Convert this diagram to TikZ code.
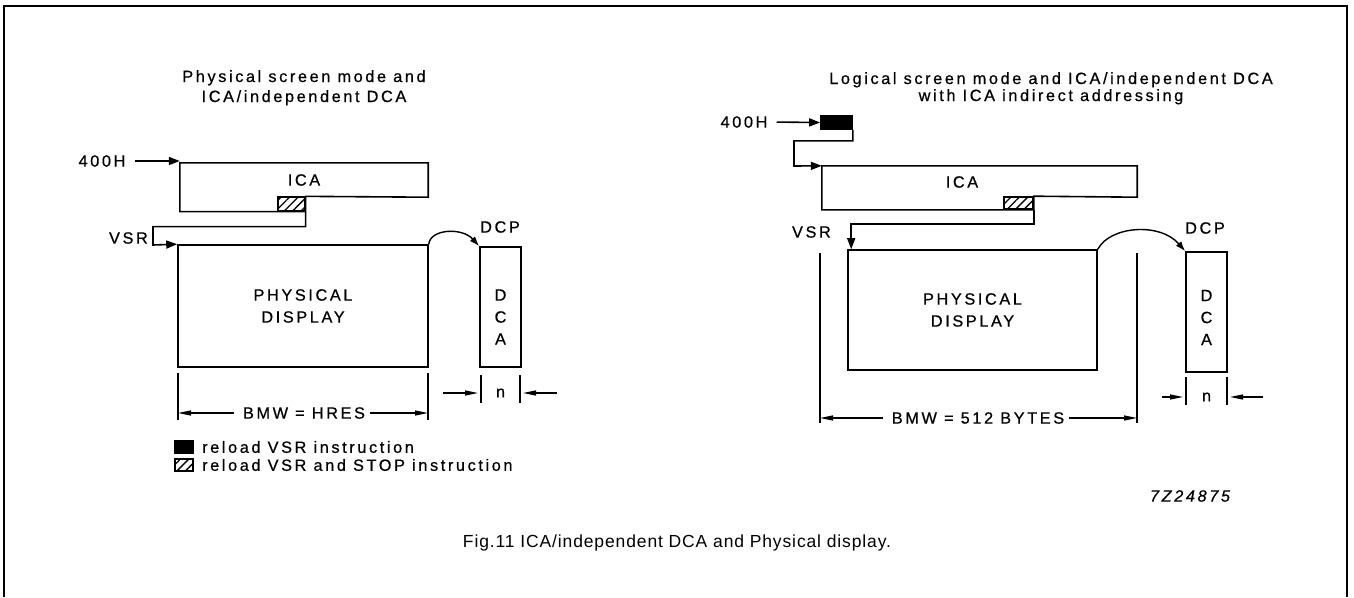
\documentclass[tikz,border=0pt]{standalone}
\usepackage{fontspec}
\setmainfont{Liberation Sans}[LetterSpace=16,FakeBold=0.6]
\newfontfamily\captionfont{Liberation Sans}[LetterSpace=5]
\usetikzlibrary{arrows.meta,patterns.meta,positioning,calc}

\tikzset{
  >={Triangle[length=11pt,width=8pt]},
  % texts
  lbl/.style={font=\fontsize{16.3}{20}\selectfont,inner sep=0pt,align=center},
  stack/.style={lbl,font=\fontsize{16.3}{22}\selectfont},
  % boxes
  box/.style={draw,line width=1.6pt,rectangle,inner sep=0pt},
  hatchbox/.style={box,pattern={Lines[angle=45,distance=6pt,line width=1.3pt]}},
  solidbox/.style={box,fill=black},
  % connectors
  conn/.style={line width=1.6pt,->},
  hop/.style={line width=1.4pt,-{Latex[length=10pt,width=7pt]}},
  dimarrow/.style={line width=1.2pt,-{Triangle[length=13pt,width=5pt]}},
  tickline/.style={line width=1.2pt}
}

\begin{document}
\begin{tikzpicture}[x=1pt,y=-1pt]
  \useasboundingbox (0,0) rectangle (1354,597);
  \draw[line width=2pt] (4,597) -- (4,6) -- (1347,6) -- (1347,597);

  % --- physical screen mode ---
  \node[lbl,anchor=north] (title1) at (304,70) {Physical screen mode and\\ICA/independent DCA};
  \node[lbl] (h400a) at (102,161) {400H};
  \node[lbl,minimum width=248pt,minimum height=34pt] (ica1) at (304,180) {ICA};
  \node[hatchbox,minimum width=27pt,minimum height=14pt] (stop1) at (291.5,204) {};
  \draw[line width=1.6pt] (ica1.north west) -| (ica1.south east) -- (stop1.north east)
    |- (ica1.south west |- stop1.south) -- cycle;
  \node[lbl,anchor=east] (vsr1) at (148,238) {VSR};
  \node[box,lbl,font=\fontsize{16.3}{22}\selectfont,minimum width=250pt,minimum height=122pt] (phys1) at (303,306) {PHYSICAL\\DISPLAY};
  \node[box,minimum width=41pt,minimum height=120pt] (dca1) at (500.5,307) {};
  \node[stack] (dcatxt1) at (500.5,317) {D\\C\\A};
  \node[lbl] (dcp1) at (500,227) {DCP};

  \draw[conn,shorten <=9pt] (h400a.east) -- (h400a.east -| ica1.west);
  \draw[conn] (stop1.south east) -- ++(0,15) -| (153,245) -- (phys1.north west);
  \draw[hop] (phys1.north east) .. controls (430,229) and (462,227) .. (dca1.north west);

  % widths
  \draw[tickline] (178,373) -- (178,420) (428,373) -- (428,420);
  \node[lbl] (bmw1) at (304,413) {BMW = HRES};
  \coordinate (bl1) at (178,413);
  \coordinate (br1) at (428,413);
  \draw[dimarrow,shorten <=9pt] (bmw1.west) -- (bl1);
  \draw[dimarrow,shorten <=5pt] (bmw1.east) -- (br1);
  \draw[tickline] (481,375) -- (481,403) (520,375) -- (520,403);
  \node[lbl] (n1) at (500.5,393) {n};
  \coordinate (nl1) at (443,393);
  \coordinate (nr1) at (557,393);
  \draw[dimarrow] (nl1) -- (478,393);
  \draw[dimarrow] (nr1) -- (523,393);

  % key
  \node[solidbox,minimum width=18pt,minimum height=12pt] (keyblk) at (184,447) {};
  \node[lbl,anchor=west] (keytxt1) at (202,447) {reload VSR instruction};
  \node[hatchbox,minimum width=18pt,minimum height=12pt] (keyhat) at (184,465) {};
  \node[lbl,anchor=west] (keytxt2) at (202,465) {reload VSR and STOP instruction};

  % --- logical screen mode ---
  \node[lbl,anchor=north,font=\fontsize{16.3}{17}\selectfont] (title2) at (1051,72) {Logical screen mode and ICA/independent DCA\\with ICA indirect addressing};
  \node[lbl] (h400b) at (744,122) {400H};
  \node[solidbox,minimum width=31pt,minimum height=13pt] (blk) at (836.5,122.5) {};
  \node[minimum width=315pt,minimum height=31pt,inner sep=0pt] (ica2) at (979.5,181.5) {};
  \node[lbl] (icatxt2) at (962,182) {ICA};
  \node[hatchbox,minimum width=29pt,minimum height=12pt] (stop2) at (1018.5,203) {};
  \draw[line width=1.6pt] (ica2.north west) -| (ica2.south east) -- (stop2.north east)
    |- (ica2.south west |- stop2.south) -- cycle;
  \node[lbl,anchor=east] (vsr2) at (831,232) {VSR};
  \node[box,lbl,font=\fontsize{16.3}{22}\selectfont,minimum width=249pt,minimum height=120pt] (phys2) at (972.5,310) {PHYSICAL\\DISPLAY};
  \node[box,minimum width=41pt,minimum height=120pt] (dca2) at (1206.5,312) {};
  \node[stack] (dcatxt2) at (1206.5,317.5) {D\\C\\A};
  \node[lbl] (dcp2) at (1205,228) {DCP};

  \draw[conn,shorten <=9pt] (h400b.east) -- (blk.west);
  \draw[conn] (blk.south east) -- ++(0,11) -| (794,166) -- (ica2.north west);
  \draw[conn] (stop2.south east) -- ++(0,14) -| ($(phys2.north west)+(4,0)$);
  \draw[hop] (phys2.north east) .. controls (1110,226) and (1160,222) .. (dca2.north west);

  % widths
  \draw[tickline] (820,253) -- (820,423) (1137,253) -- (1137,423);
  \node[lbl] (bmw2) at (978,418) {BMW = 512 BYTES};
  \coordinate (bl2) at (820,418);
  \coordinate (br2) at (1137,418);
  \draw[dimarrow,shorten <=9pt] (bmw2.west) -- (bl2);
  \draw[dimarrow,shorten <=5pt] (bmw2.east) -- (br2);
  \draw[tickline] (1186,377) -- (1186,405) (1227,377) -- (1227,405);
  \node[lbl] (n2) at (1206.5,397) {n};
  \coordinate (nl2) at (1162,397);
  \coordinate (nr2) at (1263,397);
  \draw[dimarrow] (nl2) -- (1183,397);
  \draw[dimarrow] (nr2) -- (1230,397);

  \node[lbl,font=\fontsize{16.3}{20}\itshape] (code) at (1190,496) {7Z24875};
  \node[lbl,font=\captionfont\fontsize{17.5}{20}\selectfont] (caption) at (677,543) {Fig.11 ICA/independent DCA and Physical display.};
\end{tikzpicture}
\end{document}
